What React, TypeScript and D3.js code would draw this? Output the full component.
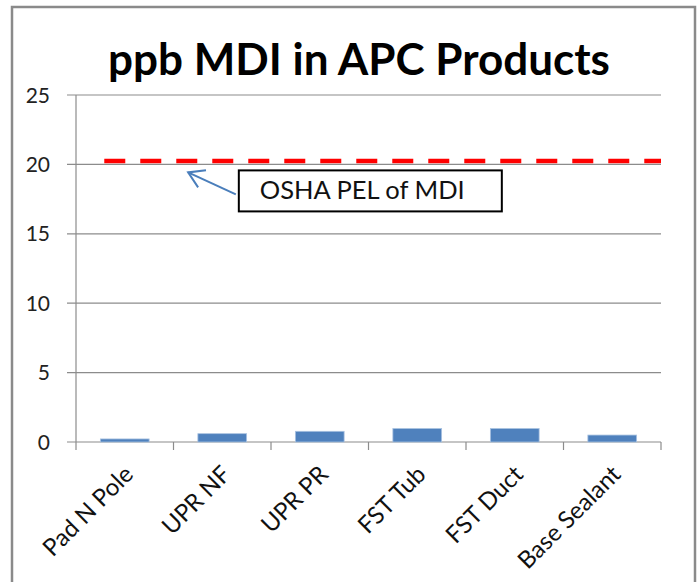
import React from 'react'
import * as d3 from 'd3'

// data
const categories = ['Pad N Pole', 'UPR NF', 'UPR PR', 'FST Tub', 'FST Duct', 'Base Sealant']
const values = [0.22, 0.6, 0.77, 0.97, 0.97, 0.5]
const yTicks = [0, 5, 10, 15, 20, 25]
const pelValue = 20.25
const pelLabel = 'OSHA PEL of MDI'
const title = 'ppb MDI in APC Products'

const W = 699,
  H = 582
const margin = {left: 76, right: 38, top: 95, bottom: 140}
const font = 'Lato, "Open Sans", sans-serif'

export default function App() {
  const x = d3.scaleBand<string>()
    .domain(categories)
    .range([margin.left, W - margin.right])
    .paddingInner(0.5)
    .paddingOuter(0.25)
  const step = x.step()
  const y = d3.scaleLinear().domain([0, 25]).range([H - margin.bottom, margin.top])

  const x0 = margin.left
  const x1 = W - margin.right
  const y0 = y(0)

  const pelY = y(pelValue)
  const pelStart = (x(categories[0]) as number) + x.bandwidth() * 0.08

  // annotation box, placed under the PEL line
  const boxX = x0 + step * 1.67
  const boxY = y(20) + 6
  const boxW = 263
  const boxH = 41
  const tip = [x0 + step * 1.15, y(20) + 8]
  const tail = [boxX - 3, boxY + 24]
  const ang = Math.atan2(tail[1] - tip[1], tail[0] - tip[0])
  const headLen = 18
  const head = [ang - 0.55, ang + 0.55].map(a => [tip[0] + headLen * Math.cos(a), tip[1] + headLen * Math.sin(a)])

  return (
    <svg width={W} height={H} style={{position: 'absolute', left: 0, top: 0, background: '#fff'}}>
      {/* chart frame */}
      <rect x={12} y={7} width={683} height={H + 20} fill="#fff" stroke="#8a8a8a" strokeWidth={2.5} />

      <text x={359} y={75} textAnchor="middle" fontFamily={font} fontWeight={700} fontSize={44} fill="#000">
        {title}
      </text>

      {/* gridlines + y ticks */}
      {yTicks.map(t => (
        <g key={t}>
          <line x1={x0 - 9} x2={x1} y1={y(t)} y2={y(t)} stroke="#8c8c8c" strokeWidth={1.2} />
          <text x={50} y={y(t) + 7.5} textAnchor="end" fontFamily={font} fontSize={21} fill="#222">
            {t}
          </text>
        </g>
      ))}
      <line x1={x0} x2={x0} y1={margin.top} y2={y0} stroke="#8c8c8c" strokeWidth={1.2} />

      {/* category ticks */}
      {d3.range(categories.length + 1).map(i => (
        <line key={i} x1={x0 + i * step} x2={x0 + i * step} y1={y0} y2={y0 + 8} stroke="#8c8c8c" strokeWidth={1.2} />
      ))}

      {categories.map((c, i) => (
        <rect
          key={c}
          x={x(c)}
          y={y(values[i])}
          width={x.bandwidth()}
          height={y0 - y(values[i])}
          fill="#4f81bd"
          stroke="#a9c2e0"
          strokeWidth={0.8}
        />
      ))}

      {categories.map(c => {
        const cx = (x(c) as number) + x.bandwidth() / 2 - 2
        return (
          <text
            key={c}
            transform={`translate(${cx},${y0 + 22}) rotate(-45)`}
            textAnchor="end"
            fontFamily={font}
            fontSize={24}
            dy="0.7em"
            fill="#111"
          >
            {c}
          </text>
        )
      })}

      {/* PEL line */}
      <line
        x1={pelStart}
        x2={x1}
        y1={pelY}
        y2={pelY}
        stroke="#ff0000"
        strokeWidth={4.5}
        strokeDasharray="21 15"
      />

      {/* annotation */}
      <line x1={tail[0]} y1={tail[1]} x2={tip[0]} y2={tip[1]} stroke="#4a7ebb" strokeWidth={2} />
      <polyline
        points={`${head[0][0]},${head[0][1]} ${tip[0]},${tip[1]} ${head[1][0]},${head[1][1]}`}
        fill="none"
        stroke="#4a7ebb"
        strokeWidth={2}
      />
      <rect x={boxX} y={boxY} width={boxW} height={boxH} fill="#fff" stroke="#000" strokeWidth={2} />
      <text x={boxX + 21} y={boxY + 29} fontFamily={font} fontSize={25.5} fill="#111">
        {pelLabel}
      </text>
    </svg>
  )
}
